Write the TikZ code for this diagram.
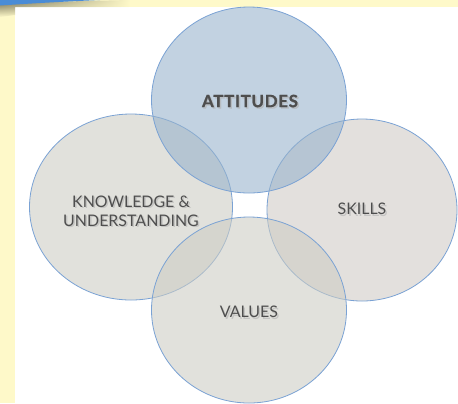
\documentclass[tikz,border=0pt]{standalone}
\usepackage{fontspec}
\setmainfont{Lato}
\usetikzlibrary{shapes.geometric,shadings,fadings}
\definecolor{bgyellow}{RGB}{254,249,201}
\definecolor{edgeblue}{RGB}{122,162,212}
\definecolor{attblue}{RGB}{150,178,204}
\definecolor{grayfill}{RGB}{205,205,196}
\definecolor{skillfill}{RGB}{208,202,198}
\definecolor{txtgray}{RGB}{78,78,78}
\definecolor{swoosh}{RGB}{74,140,214}
\definecolor{shadowc}{RGB}{110,105,80}
\tikzset{
  venn/.style={ellipse, draw=edgeblue, line width=0.8bp, fill opacity=0.58, inner sep=0pt},
  lbl/.style={text=txtgray, font=\fontsize{16}{19}\selectfont, align=center, inner sep=0pt},
  shd/.style={text=black!30, text opacity=0.6, font=\fontsize{16}{19}\selectfont, align=center, inner sep=0pt},
  attfont/.style={font=\bfseries\fontsize{17}{20}\selectfont\addfontfeatures{LetterSpace=4,FakeBold=1}},
}
\begin{document}
\begin{tikzpicture}[x=1bp,y=-1bp]
\useasboundingbox (0,0) rectangle (458,403);
% background
\fill[bgyellow] (0,0) rectangle (458,403);
\fill[white] (15,7) rectangle (458,403);
% top-left swoosh with shadow
\shade[top color=shadowc, bottom color=bgyellow, path fading=east]
  (0,3) -- (130,0) -- (130,7) -- (15,7) -- (15,15) -- (0,17) -- cycle;
\fill[swoosh] (0,0) -- (100,0) .. controls (65,1.5) and (30,3.5) .. (0,5.5) -- cycle;
% circles
\node[venn, fill=grayfill, minimum width=203bp, minimum height=186bp] (know) at (131,207) {};
\node[venn, fill=skillfill, minimum width=190bp, minimum height=182bp] (skill) at (362,210) {};
\node[venn, fill=grayfill, minimum width=195bp, minimum height=186bp] (val) at (249,310) {};
\node[venn, fill=attblue, minimum width=195bp, minimum height=186bp] (att) at (249,100) {};
% labels with soft shadow
\node[shd, attfont] at (251.5,102.5) {ATTITUDES};
\node[lbl, attfont] (attl) at (250,101) {ATTITUDES};
\node[shd] at (132.5,212.5) {KNOWLEDGE \&\\UNDERSTANDING};
\node[lbl] (knowl) at (131,211) {KNOWLEDGE \&\\UNDERSTANDING};
\node[shd] at (363.5,210.5) {SKILLS};
\node[lbl] (skilll) at (362,209) {SKILLS};
\node[shd] at (250.5,313.5) {VALUES};
\node[lbl] (vall) at (249,312) {VALUES};
\end{tikzpicture}
\end{document}
